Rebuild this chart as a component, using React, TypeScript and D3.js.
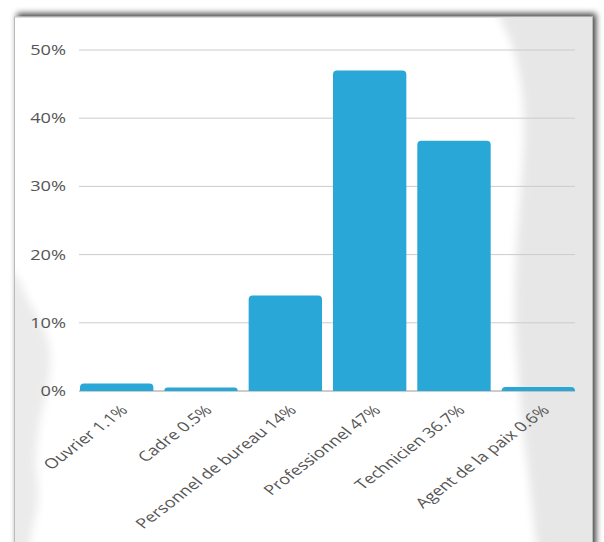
import React from "react";
import * as d3 from "d3";

const categories = ["Ouvrier 1.1%", "Cadre 0.5%", "Personnel de bureau 14%", "Professionnel 47%", "Technicien 36.7%", "Agent de la paix 0.6%"];
const values = [1.1, 0.5, 14, 47, 36.7, 0.6];
const yTicks = [0, 10, 20, 30, 40, 50];

const W = 604, H = 542;
const plot = { left: 80, right: 575, top: 50, bottom: 391 };
const SX = 1.3;

function roundedTopBar(x: number, y: number, w: number, h: number, r: number) {
  const rr = Math.min(r, h, w / 2);
  return `M${x},${y + h}V${y + rr}Q${x},${y} ${x + rr},${y}H${x + w - rr}Q${x + w},${y} ${x + w},${y + rr}V${y + h}Z`;
}

export default function App() {
  const x = d3.scaleBand<string>().domain(categories).range([plot.left, plot.right]).paddingInner(0.13).paddingOuter(0);
  const y = d3.scaleLinear().domain([0, 50]).range([plot.bottom, plot.top]);
  const font = "'Open Sans', sans-serif";
  const rightTex = d3.line().curve(d3.curveCatmullRom)([
    [496, -10], [500, 17], [512, 45], [522, 90], [524, 140], [520, 200], [516, 260], [515, 320], [518, 370], [522, 420], [528, 470], [536, 542], [540, 570],
  ] as [number, number][]);
  const leftTex = d3.line().curve(d3.curveCatmullRom)([
    [-10, 265], [15, 275], [28, 300], [42, 325], [50, 350], [48, 385], [40, 420], [36, 460], [38, 500], [30, 542], [28, 570],
  ] as [number, number][]);
  return (
    <svg width={W} height={H} style={{ position: "absolute", left: 0, top: 0 }}>
      <defs>
        <filter id="sh" x="-10%" y="-10%" width="120%" height="120%">
          <feGaussianBlur in="SourceAlpha" stdDeviation="3" />
          <feOffset dx="3" dy="-3" result="b" />
          <feComponentTransfer><feFuncA type="linear" slope="0.75" /></feComponentTransfer>
          <feMerge><feMergeNode /><feMergeNode in="SourceGraphic" /></feMerge>
        </filter>
        <filter id="soft" x="-50%" y="-20%" width="200%" height="140%">
          <feGaussianBlur stdDeviation="4" />
        </filter>
        <clipPath id="frame"><rect x={15} y={17.5} width={577} height={560} /></clipPath>
      </defs>
      <rect x={0} y={0} width={W} height={H} fill="#fff" />
      <rect x={14.5} y={17} width={578} height={560} fill="#fff" stroke="#bbb" strokeWidth={1} filter="url(#sh)" />
      <g clipPath="url(#frame)">
        <path d={`${rightTex}L660,570L660,-10Z`} fill="#e7e7e7" filter="url(#soft)" />
        <path d={`${leftTex}L-40,570L-40,265Z`} fill="#ebebeb" filter="url(#soft)" />
      </g>
      {yTicks.map((t) => (
        <g key={t}>
          {t > 0 && <line x1={plot.left - 1} x2={plot.right} y1={y(t)} y2={y(t)} stroke="#ccc" strokeWidth={1} />}
          <text transform={`translate(66,${y(t) + 5}) scale(${SX},1)`} textAnchor="end" fontFamily={font} fontSize={14} fill="#555">{t}%</text>
        </g>
      ))}
      <line x1={plot.left - 1} x2={plot.right} y1={plot.bottom} y2={plot.bottom} stroke="#999" strokeWidth={1} />
      {categories.map((c, i) => (
        <path key={c} d={roundedTopBar(x(c)!, y(values[i]), x.bandwidth(), plot.bottom - y(values[i]), 4)} fill="#29a7d6" />
      ))}
      {categories.map((c) => {
        const cx = x(c)! + x.bandwidth() / 2;
        return (
          <text key={c} transform={`translate(${cx + 12},${plot.bottom + 20}) scale(${SX},1) rotate(-45)`} textAnchor="end" fontFamily={font} fontSize={14} fill="#555">{c}</text>
        );
      })}
    </svg>
  );
}
